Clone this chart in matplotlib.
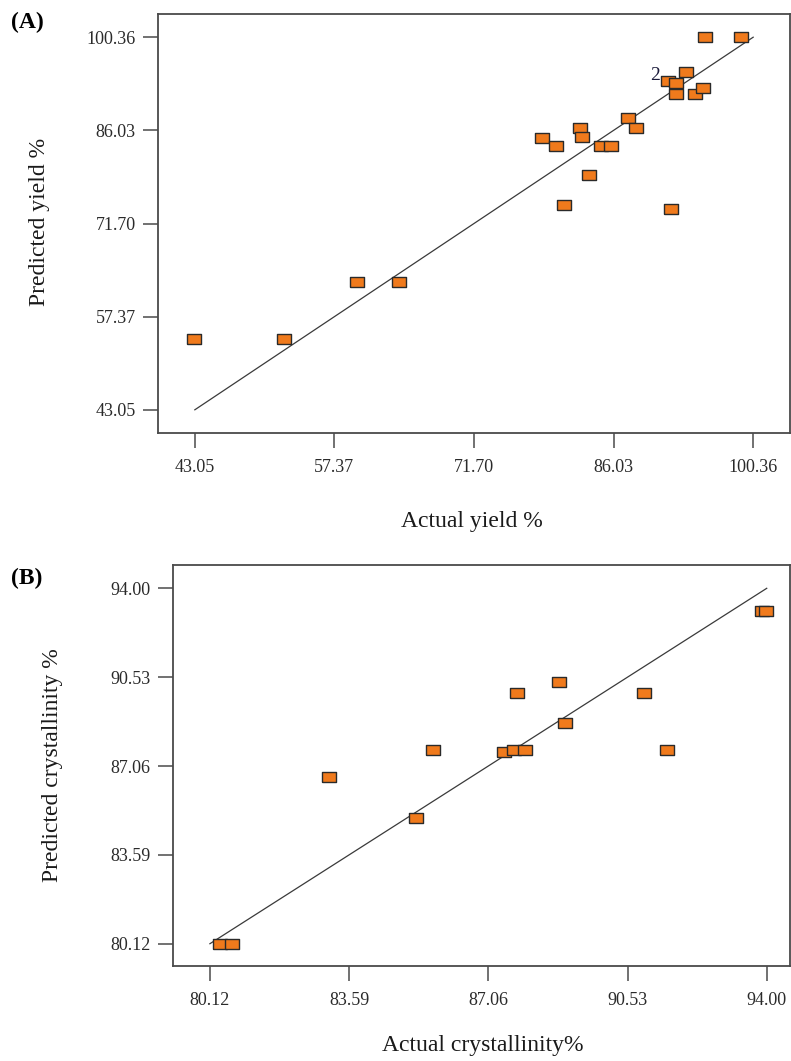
import matplotlib
matplotlib.use("Agg")
import matplotlib.pyplot as plt
import numpy as np

plt.rcParams['font.family'] = ['Liberation Serif', 'DejaVu Serif']

# (A) yield
yield_actual = [42.92, 52.16, 59.72, 64.04, 78.66, 80.08, 82.61, 82.77, 80.92, 83.53,
                84.79, 85.80, 87.47, 88.36, 91.88, 91.59, 92.47, 92.39, 93.44, 94.36,
                95.20, 95.37, 99.15]
yield_pred = [54.00, 54.00, 62.71, 62.71, 84.92, 83.55, 86.35, 84.97, 74.53, 79.22,
              83.55, 83.55, 87.88, 86.35, 73.87, 93.63, 93.33, 91.70, 95.01, 91.70,
              92.62, 100.36, 100.36]
yield_ticks = [43.05, 57.37, 71.70, 86.03, 100.36]
yield_ticklabels = ["43.05", "57.37", "71.70", "86.03", "100.36"]

# (B) crystallinity
cryst_actual = [80.37, 80.68, 83.10, 85.26, 85.69, 87.44, 87.71, 87.98, 87.78, 88.83,
                88.98, 90.93, 91.52, 93.89, 93.99]
cryst_pred = [80.12, 80.12, 86.63, 85.02, 87.68, 87.60, 87.68, 87.68, 89.91, 90.34,
              88.75, 89.91, 87.68, 93.12, 93.12]
cryst_ticks = [80.12, 83.59, 87.06, 90.53, 94.00]
cryst_ticklabels = ["80.12", "83.59", "87.06", "90.53", "94.00"]

W, H = 791, 1061
fig = plt.figure(figsize=(W / 100, H / 100), dpi=100)

rect = [(-1, -0.64), (1, -0.64), (1, 0.64), (-1, 0.64), (-1, -0.64)]
orange = '#f07a1c'
frame = '#4a4a4a'


def panel(box, xs, ys, ticks, ticklabels, xlim, ylim):
    ax = fig.add_axes(box)
    lo, hi = ticks[0], ticks[-1]
    ax.plot([lo, hi], [lo, hi], color='#3a3a3a', lw=0.9, zorder=2)
    ax.scatter(xs, ys, marker=rect, s=110, facecolor=orange, edgecolor='#2a2a2a',
               linewidths=1.0, zorder=3)
    ax.set_xlim(*xlim)
    ax.set_ylim(*ylim)
    ax.set_xticks(ticks)
    ax.set_xticklabels(ticklabels)
    ax.set_yticks(ticks)
    ax.set_yticklabels(ticklabels)
    for s in ax.spines.values():
        s.set_color(frame)
        s.set_linewidth(1.3)
    ax.tick_params(axis='both', direction='out', length=11, width=1.1, color=frame,
                   labelsize=13, labelcolor='#2a2a2a')
    ax.tick_params(axis='x', pad=8)
    ax.tick_params(axis='y', pad=5)
    return ax


axA = panel([158 / W, 1 - 433 / H, 632 / W, 419 / H], yield_actual, yield_pred,
            yield_ticks, yield_ticklabels, (39.27, 104.14), (39.48, 103.93))
axA.text(90.3, 94.5, "2", fontsize=14, color='#1a1a3a', ha='center', va='center')

axB = panel([173 / W, 1 - 966 / H, 617 / W, 401 / H], cryst_actual, cryst_pred,
            cryst_ticks, cryst_ticklabels, (79.20, 94.58), (79.25, 94.91))

fig.text(472 / W, 1 - 521 / H, "Actual yield %", fontsize=17, ha='center', va='center',
         color='#1a1a1a')
fig.text(40 / W, 1 - 222 / H, "Predicted yield %", fontsize=17, ha='center', va='center',
         rotation=90, color='#1a1a1a')
fig.text(483 / W, 1 - 1045 / H, "Actual crystallinity%", fontsize=17, ha='center',
         va='center', color='#1a1a1a')
fig.text(53 / W, 1 - 765 / H, "Predicted crystallinity %", fontsize=17, ha='center',
         va='center', rotation=90, color='#1a1a1a')

fig.text(11 / W, 1 - 22 / H, "(A)", fontsize=17, fontweight='bold', ha='left', va='center')
fig.text(11 / W, 1 - 578 / H, "(B)", fontsize=17, fontweight='bold', ha='left', va='center')

fig.savefig("out.png", dpi=100)
